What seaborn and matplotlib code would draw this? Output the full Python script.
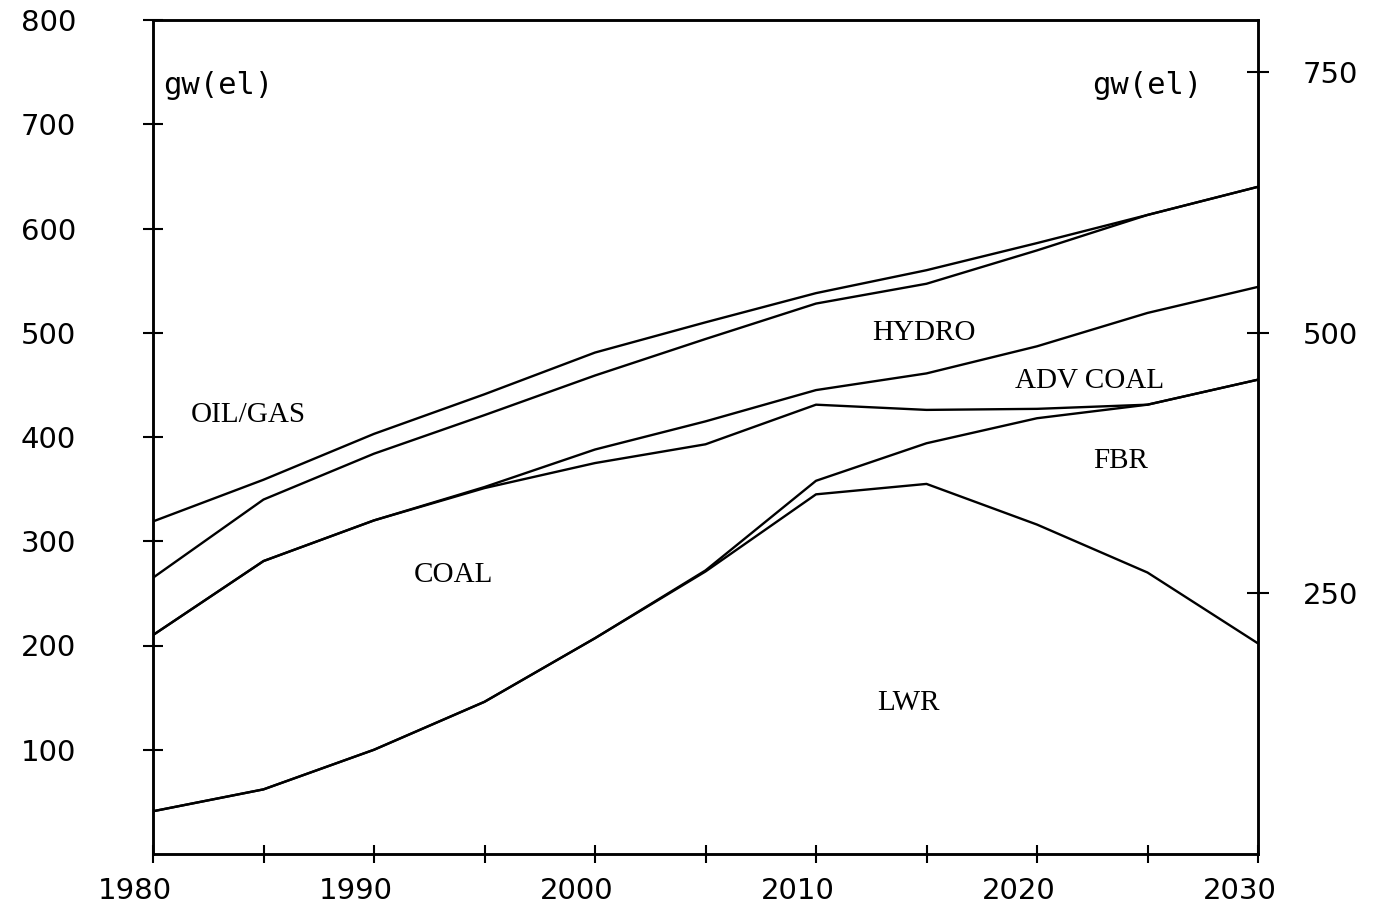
import numpy as np
import pandas as pd
import matplotlib
matplotlib.use("Agg")
import matplotlib.pyplot as plt
import matplotlib.transforms as mtransforms
import seaborn as sns

# ---- data (GW(el) by source, stacked) ----
years = [1980, 1985, 1990, 1995, 2000, 2005, 2010, 2015, 2020, 2025, 2030]
lwr = [41, 62, 100, 146, 207, 271, 345, 355, 316, 270, 202]
fbr = [0, 0, 0, 0, 0, 1, 13, 39, 102, 161, 253]
coal = [169, 219, 220, 205, 168, 121, 73, 32, 9, 0, 0]
adv_coal = [0, 0, 0, 1, 13, 22, 14, 35, 60, 88, 89]
hydro = [55, 59, 64, 69, 71, 79, 83, 86, 92, 94, 96]
oil_gas = [54, 19, 19, 20, 22, 16, 10, 13, 7, 0, 0]
series_names = ["LWR", "FBR", "COAL", "ADV COAL", "HYDRO", "OIL/GAS"]

x_ticks = [1980, 1985, 1990, 1995, 2000, 2005, 2010, 2015, 2020, 2025, 2030]
x_ticklabels = ["1980", "", "1990", "", "2000", "", "2010", "", "2020", "", "2030"]
yl_ticks = [100, 200, 300, 400, 500, 600, 700, 800]
yl_ticklabels = ["100", "200", "300", "400", "500", "600", "700", "800"]
yr_ticks = [250, 500, 750]
yr_ticklabels = ["250", "500", "750"]
unit_label = "gw(el)"

# region labels: (text, x, y)
region_labels = [
    ("OIL/GAS", 1984.3, 421),
    ("HYDRO", 2014.9, 500),
    ("ADV COAL", 2022.4, 454),
    ("FBR", 2023.8, 377),
    ("COAL", 1993.6, 268),
    ("LWR", 2014.2, 145),
]

stack = np.cumsum(np.vstack([lwr, fbr, coal, adv_coal, hydro, oil_gas]), axis=0)
rows = []
for name, vals in zip(series_names, stack):
    for yr, v in zip(years, vals):
        rows.append({"year": yr, "value": v, "band": name})
df = pd.DataFrame(rows)

sns.set_theme(style="white")
plt.rcParams["font.family"] = ["DejaVu Sans"]
plt.rcParams["text.color"] = "black"
plt.rcParams["xtick.color"] = "black"
plt.rcParams["ytick.color"] = "black"

W, H = 1388, 909
fig = plt.figure(figsize=(W / 100, H / 100), dpi=100)
fig.patch.set_facecolor("white")
L, R, T, B = 153, 1258, 20, 854
ax = fig.add_axes([L / W, 1 - B / H, (R - L) / W, (B - T) / H])

sns.lineplot(data=df, x="year", y="value", units="band", estimator=None,
             color="black", linewidth=1.7, ax=ax, legend=False)

ax.set_xlim(1980, 2030)
ax.set_ylim(0, 800)
ax.set_xlabel("")
ax.set_ylabel("")
for s in ax.spines.values():
    s.set_visible(True)
    s.set_color("black")
    s.set_linewidth(1.8)

tick_font = dict(family="DejaVu Sans", size=21, color="black")

ax.set_xticks(x_ticks)
ax.set_xticklabels(x_ticklabels, fontdict=tick_font)
ax.set_yticks(yl_ticks)
ax.set_yticklabels(yl_ticklabels, fontdict=tick_font)
ax.tick_params(axis="x", direction="inout", length=13, width=1.5, color="black",
               pad=10, bottom=True, top=False, labelcolor="black")
ax.tick_params(axis="y", direction="inout", length=14.5, width=1.5, color="black",
               pad=68, left=True, right=False, labelcolor="black")
for t in ax.get_yticklabels():
    t.set_horizontalalignment("center")
off = mtransforms.ScaledTranslation(-18 / 100, 0, fig.dpi_scale_trans)
for t in ax.get_xticklabels():
    t.set_transform(t.get_transform() + off)

ax2 = ax.twinx()
ax2.set_ylim(0, 800)
ax2.set_yticks(yr_ticks)
ax2.set_yticklabels(yr_ticklabels, fontdict=tick_font)
ax2.tick_params(axis="y", direction="inout", length=16, width=1.5, color="black",
                pad=44, right=True, left=False, labelcolor="black")
for t in ax2.get_yticklabels():
    t.set_horizontalalignment("center")
for s in ax2.spines.values():
    s.set_visible(True)
    s.set_color("black")
    s.set_linewidth(1.8)
ax2.grid(False)
ax.grid(False)

unit_font = dict(family="DejaVu Sans Mono", size=22, color="black")
ax.text(1980.45, 737, unit_label, ha="left", va="center", fontdict=unit_font)
ax.text(2027.47, 737, unit_label, ha="right", va="center", fontdict=unit_font)

label_font = dict(family="Liberation Serif", size=21, color="black")
for txt, x, y in region_labels:
    ax.text(x, y, txt, ha="center", va="center", fontdict=label_font)

fig.savefig("out.png", dpi=100, facecolor="white")
